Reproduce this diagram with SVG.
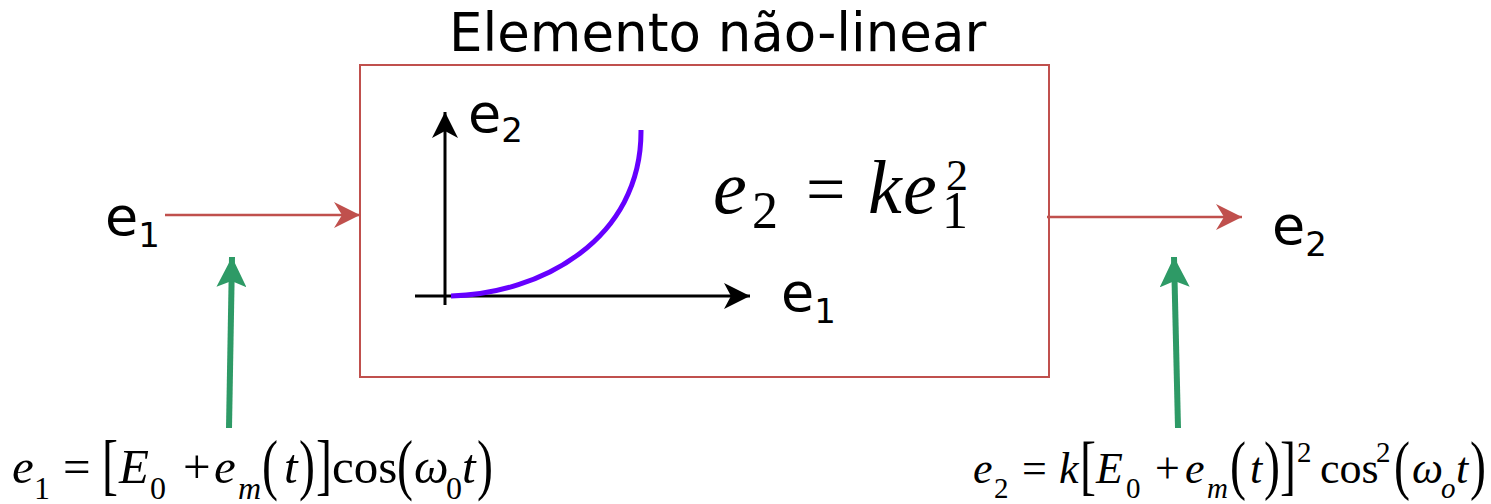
<svg xmlns="http://www.w3.org/2000/svg" width="1491" height="504" viewBox="0 0 1491 504">
<style>
.sans{font-family:"DejaVu Sans",Verdana,sans-serif;fill:#000}
.ser{font-family:"Liberation Serif","Times New Roman",serif;fill:#000}
.it{font-style:italic}
.red{stroke:#c0504d;stroke-width:2.5;fill:none}
.grn{stroke:#2e9a66;stroke-width:6;fill:none}
.blk{stroke:#000;stroke-width:3;fill:none}
.br{font-family:"Liberation Serif","Times New Roman",serif;fill:#000;font-size:48px}
</style>
<defs>
<marker id="hr" markerUnits="userSpaceOnUse" viewBox="0 0 26 26" refX="26" refY="13" markerWidth="26" markerHeight="26" orient="auto">
<path d="M0,0 L26,13 L0,26 L8,13 z" fill="#c0504d"/>
</marker>
<marker id="hg" markerUnits="userSpaceOnUse" viewBox="0 0 30 30" refX="30" refY="15" markerWidth="30" markerHeight="30" orient="auto">
<path d="M0,0 L30,15 L0,30 L6,15 z" fill="#2e9a66"/>
</marker>
<marker id="hb" markerUnits="userSpaceOnUse" viewBox="0 0 26 26" refX="26" refY="13" markerWidth="26" markerHeight="26" orient="auto">
<path d="M0,0 L26,13 L0,26 L7,13 z" fill="#000"/>
</marker>
</defs>

<g id="title">
<text class="sans" x="449" y="51" font-size="53">Elemento não-linear</text>
</g>

<g id="nonlinear-element">
<rect x="360" y="65" width="689" height="312" fill="#fff" stroke="#c0504d" stroke-width="2"/>
<g id="graph">
<line class="blk" x1="445" y1="305" x2="445" y2="112" marker-end="url(#hb)"/>
<line class="blk" x1="415" y1="296" x2="750" y2="296" marker-end="url(#hb)"/>
<path d="M451,296 C540,294 642,240 641,130" fill="none" stroke="#6600ff" stroke-width="5"/>
<text class="sans" x="468" y="132" font-size="54">e<tspan font-size="34" dy="10">2</tspan></text>
<text class="sans" x="781" y="311" font-size="54">e<tspan font-size="34" dy="12">1</tspan></text>
</g>
<g id="law">
<text class="ser it" x="713" y="213" font-size="76">e</text>
<text class="ser" x="752" y="228" font-size="52">2</text>
<text class="ser" x="806" y="213" font-size="70">=</text>
<text class="ser it" x="868" y="213" font-size="76">k</text>
<text class="ser it" x="903" y="213" font-size="76">e</text>
<text class="ser" x="942" y="228" font-size="52">1</text>
<text class="ser" x="946" y="190" font-size="44">2</text>
</g>
</g>

<g id="input-label">
<text class="sans" x="105" y="235" font-size="54">e<tspan font-size="34" dy="12">1</tspan></text>
</g>
<g id="output-label">
<text class="sans" x="1272" y="244" font-size="54">e<tspan font-size="34" dy="12">2</tspan></text>
</g>

<g id="connectors">
<line class="red" x1="165" y1="215" x2="360" y2="215" marker-end="url(#hr)"/>
<line class="red" x1="1047" y1="217" x2="1242" y2="217" marker-end="url(#hr)"/>
<line class="grn" x1="229" y1="428" x2="232" y2="257" marker-end="url(#hg)"/>
<line class="grn" x1="1178" y1="428" x2="1174" y2="257" marker-end="url(#hg)"/>
</g>

<g id="input-formula">
<text class="ser it" x="12" y="483" font-size="49">e</text>
<text class="ser" x="34" y="499" font-size="32">1</text>
<text class="ser" x="63" y="483" font-size="49">=</text>
<text class="br" transform="translate(102,487) scale(1,1.4)">[</text>
<text class="ser it" x="119" y="483" font-size="49">E</text>
<text class="ser" x="150" y="499" font-size="32">0</text>
<text class="ser" x="183" y="483" font-size="49">+</text>
<text class="ser it" x="214" y="483" font-size="49">e</text>
<text class="ser it" x="238" y="499" font-size="32">m</text>
<text class="br" transform="translate(262,487) scale(1,1.4)">(</text>
<text class="ser it" x="284" y="483" font-size="49">t</text>
<text class="br" transform="translate(299,487) scale(1,1.4)">)</text>
<text class="br" transform="translate(316,487) scale(1,1.4)">]</text>
<text class="ser" x="332" y="483" font-size="49">cos</text>
<text class="br" transform="translate(397,487) scale(1,1.4)">(</text>
<text class="ser it" x="414" y="483" font-size="49">ω</text>
<text class="ser" x="446" y="499" font-size="32">0</text>
<text class="ser it" x="462" y="483" font-size="49">t</text>
<text class="br" transform="translate(477,487) scale(1,1.4)">)</text>
</g>

<g id="output-formula">
<text class="ser it" x="973" y="483" font-size="44">e</text>
<text class="ser" x="994" y="498" font-size="29">2</text>
<text class="ser" x="1022" y="483" font-size="44">=</text>
<text class="ser it" x="1059" y="483" font-size="44">k</text>
<text class="br" transform="translate(1080,487) scale(1,1.35)" font-size="45">[</text>
<text class="ser it" x="1096" y="483" font-size="44">E</text>
<text class="ser" x="1126" y="498" font-size="29">0</text>
<text class="ser" x="1155" y="483" font-size="44">+</text>
<text class="ser it" x="1185" y="483" font-size="44">e</text>
<text class="ser it" x="1207" y="498" font-size="29">m</text>
<text class="br" transform="translate(1230,487) scale(1,1.35)" font-size="45">(</text>
<text class="ser it" x="1250" y="483" font-size="44">t</text>
<text class="br" transform="translate(1264,487) scale(1,1.35)" font-size="45">)</text>
<text class="br" transform="translate(1280,487) scale(1,1.35)" font-size="45">]</text>
<text class="ser" x="1297" y="462" font-size="29">2</text>
<text class="ser" x="1320" y="483" font-size="44">cos</text>
<text class="ser" x="1376" y="462" font-size="29">2</text>
<text class="br" transform="translate(1394,487) scale(1,1.35)" font-size="45">(</text>
<text class="ser it" x="1412" y="483" font-size="44">ω</text>
<text class="ser it" x="1441" y="498" font-size="29">o</text>
<text class="ser it" x="1456" y="483" font-size="44">t</text>
<text class="br" transform="translate(1470,487) scale(1,1.35)" font-size="45">)</text>
</g>
</svg>
